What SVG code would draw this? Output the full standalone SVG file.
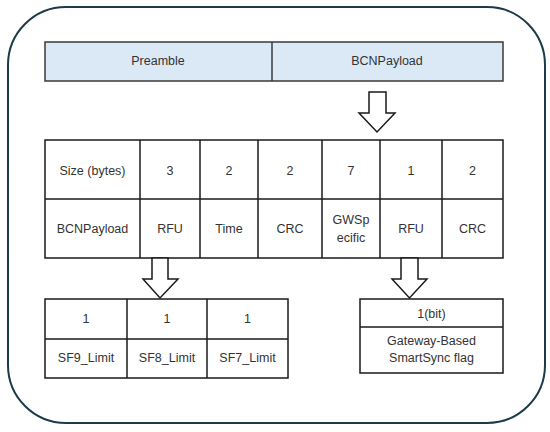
<svg xmlns="http://www.w3.org/2000/svg" width="550" height="432" viewBox="0 0 550 432">
<style>
.frame{fill:#fff;stroke:#1d3a48;stroke-width:2}
.hdr{fill:#dbe9f7;stroke:#3a3a3a;stroke-width:1.5}
.cell{fill:#fff;stroke:#1a1a1a;stroke-width:1.5}
.ln{stroke:#1a1a1a;stroke-width:1.5;fill:none}
.arr{fill:#fff;stroke:#1a1a1a;stroke-width:1.5;stroke-linejoin:miter}
text{font-family:"Liberation Sans",Arial,sans-serif;font-size:12.5px;fill:#333;text-anchor:middle}
</style>
<rect width="550" height="432" fill="#fff"/>
<rect class="frame" x="8" y="7" width="537" height="416" rx="58" ry="58"/>
<g id="frame-header">
<rect class="hdr" x="45" y="42" width="458" height="39"/>
<line class="ln" x1="272" y1="42" x2="272" y2="81" style="stroke:#3a3a3a"/>
<text x="158" y="65">Preamble</text>
<text x="387" y="65">BCNPayload</text>
</g>
<g id="payload-table">
<rect class="cell" x="45" y="140" width="458" height="118"/>
<line class="ln" x1="45" y1="199" x2="503" y2="199"/>
<line class="ln" x1="140" y1="140" x2="140" y2="258"/>
<line class="ln" x1="200" y1="140" x2="200" y2="258"/>
<line class="ln" x1="258" y1="140" x2="258" y2="258"/>
<line class="ln" x1="322" y1="140" x2="322" y2="258"/>
<line class="ln" x1="380" y1="140" x2="380" y2="258"/>
<line class="ln" x1="442" y1="140" x2="442" y2="258"/>
<text x="92.5" y="175">Size (bytes)</text>
<text x="170" y="175">3</text>
<text x="229" y="175">2</text>
<text x="290" y="175">2</text>
<text x="351" y="175">7</text>
<text x="411" y="175">1</text>
<text x="472.5" y="175">2</text>
<text x="92.5" y="233">BCNPayload</text>
<text x="170" y="233">RFU</text>
<text x="229" y="233">Time</text>
<text x="290" y="233">CRC</text>
<text x="351" y="224">GWSp</text>
<text x="351" y="242">ecific</text>
<text x="411" y="233">RFU</text>
<text x="472.5" y="233">CRC</text>
</g>
<g id="sf-table">
<rect class="cell" x="45" y="299" width="243" height="79"/>
<line class="ln" x1="45" y1="339" x2="288" y2="339"/>
<line class="ln" x1="127" y1="299" x2="127" y2="378"/>
<line class="ln" x1="207" y1="299" x2="207" y2="378"/>
<text x="86" y="323">1</text>
<text x="167" y="323">1</text>
<text x="247.5" y="323">1</text>
<text x="86" y="362">SF9_Limit</text>
<text x="167" y="362">SF8_Limit</text>
<text x="247.5" y="362">SF7_Limit</text>
</g>
<g id="smartsync-table">
<rect class="cell" x="360" y="299" width="143" height="74"/>
<line class="ln" x1="360" y1="327" x2="503" y2="327"/>
<text x="431.5" y="318">1(bit)</text>
<text x="431.5" y="345">Gateway-Based</text>
<text x="431.5" y="362">SmartSync flag</text>
</g>
<g id="connectors">
<polygon class="arr" points="369,92 386,92 386,113 395,113 377,132 359,113 369,113"/>
<polygon class="arr" points="152,258 168,258 168,279 178,279 160,298 143,279 152,279"/>
<polygon class="arr" points="401,258 418,258 418,279 427,279 409.5,298 392,279 401,279"/>
</g>
</svg>
